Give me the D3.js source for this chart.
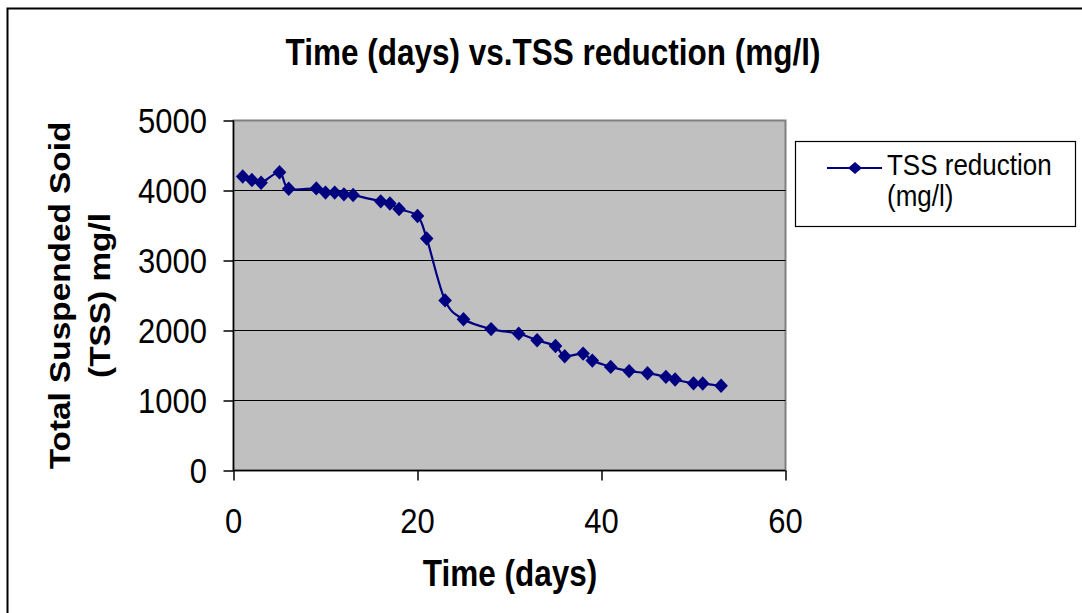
<!DOCTYPE html>
<html><head><meta charset="utf-8">
<script src="https://cdn.jsdelivr.net/npm/d3@7/dist/d3.min.js"></script>
<style>body{margin:0;background:#fff;}svg{display:block;font-family:"Liberation Sans",Arial,sans-serif;}</style>
</head><body>
<script>
const days = [1,2,3,5,6,9,10,11,12,13,16,17,18,20,21,23,25,28,31,33,35,36,38,39,41,43,45,47,48,50,51,53];
const tss  = [4200,4150,4110,4260,4025,4030,3970,3970,3945,3935,3845,3815,3735,3635,3315,2430,2160,2020,1955,1860,1778,1633,1670,1570,1480,1420,1390,1338,1300,1245,1242,1210];
const xTicks = [0,20,40,60];
const yTicks = [0,1000,2000,3000,4000,5000];
const titleText = "Time (days) vs.TSS reduction (mg/l)";
const xTitle = "Time (days)";
const yTitleLines = ["Total Suspended Soid","(TSS) mg/l"];
const legendLines = ["TSS reduction","(mg/l)"];

const W=1082,H=613, SY=1.15;
const svg=d3.select("body").append("svg").attr("width",W).attr("height",H);
svg.append("rect").attr("width",W).attr("height",H).attr("fill","#fff");
svg.append("rect").attr("x",7.5).attr("y",8.5).attr("width",1200).attr("height",800)
  .attr("fill","none").attr("stroke","#000").attr("stroke-width",2);

const L=233.5,R=785.5,T=120.5,B=470.5;
const x=d3.scaleLinear().domain([0,60]).range([L,R]);
const y=d3.scaleLinear().domain([0,5000]).range([B,T]);

function txt(xp,yp,s,size,weight,anchor){
  svg.append("text").attr("transform",`translate(${xp},${yp}) scale(1,${SY})`)
    .attr("font-size",size).attr("font-weight",weight).attr("text-anchor",anchor).attr("fill","#000").text(s);
}

// plot area
svg.append("rect").attr("x",L).attr("y",T).attr("width",R-L).attr("height",B-T)
  .attr("fill","#C0C0C0").attr("stroke","#808080").attr("stroke-width",2);
// gridlines
svg.append("g").selectAll("line").data(yTicks.filter(v=>v>0&&v<5000)).join("line")
  .attr("x1",L).attr("x2",R).attr("y1",d=>y(d)).attr("y2",d=>y(d))
  .attr("stroke","#000").attr("stroke-width",1.2);

// axes
const yAxis=svg.append("g").attr("transform",`translate(${L},0)`)
  .call(d3.axisLeft(y).tickValues(yTicks).tickSize(10).tickFormat(""));
const xAxis=svg.append("g").attr("transform",`translate(0,${B})`)
  .call(d3.axisBottom(x).tickValues(xTicks).tickSize(10).tickFormat(""));
[yAxis,xAxis].forEach(a=>{a.selectAll("path,line").attr("stroke","#000").attr("stroke-width",1.5);});
yAxis.select(".domain").attr("d",`M0,${T}V${B}`);
xAxis.select(".domain").attr("d",`M${L},0H${R}`);

yTicks.forEach(v=>txt(207,y(v)+12.5,String(v),31,"normal","end"));
xTicks.forEach(v=>txt(x(v),533,String(v),31,"normal","middle"));

// titles
txt(553,65,titleText,31.5,"bold","middle");
txt(510,586,xTitle,31.5,"bold","middle");
const yc=(T+B)/2;
[[70,yTitleLines[0]],[110,yTitleLines[1]]].forEach(([bx,s])=>{
  svg.append("text").attr("transform",`translate(${bx},${yc}) rotate(-90) scale(${SY},1)`)
    .attr("font-size",29).attr("font-weight","bold").attr("text-anchor","middle").attr("fill","#000").text(s);
});

// series
const pts=days.map((d,i)=>[d,tss[i]]);
const line=d3.line().x(d=>x(d[0])).y(d=>y(d[1])).curve(d3.curveCatmullRom.alpha(0));
svg.append("path").attr("d",line(pts)).attr("fill","none").attr("stroke","#000080").attr("stroke-width",2.2);
const diamond=(cx,cy,rx,ry)=>`M${cx},${cy-ry}L${cx+rx},${cy}L${cx},${cy+ry}L${cx-rx},${cy}Z`;
svg.append("g").selectAll("path").data(pts).join("path")
  .attr("d",d=>diamond(x(d[0]),y(d[1]),6.8,7.2)).attr("fill","#000080");

// legend
svg.append("rect").attr("x",795.5).attr("y",141.5).attr("width",280).attr("height",85)
  .attr("fill","#fff").attr("stroke","#000").attr("stroke-width",1.2);
svg.append("line").attr("x1",827).attr("x2",882).attr("y1",168).attr("y2",168)
  .attr("stroke","#000080").attr("stroke-width",2);
svg.append("path").attr("d",diamond(855,168,7,6)).attr("fill","#000080");
txt(887,175,legendLines[0],26,"normal","start");
txt(887,206,legendLines[1],26,"normal","start");
</script>
</body></html>
